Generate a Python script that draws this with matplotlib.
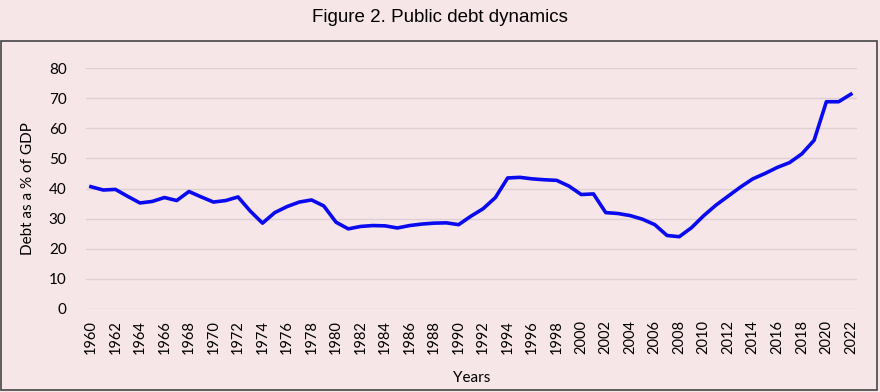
import numpy as np
import matplotlib
matplotlib.use('Agg')
import matplotlib.pyplot as plt
from matplotlib.patches import Rectangle

### Data ###
years = list(range(1960, 2023))
debt = [40.6, 39.5, 39.7, 37.4, 35.2, 35.7, 37.0, 36.0, 39.0, 37.2,
        35.5, 36.0, 37.2, 32.5, 28.5, 32.0, 34.0, 35.5, 36.2, 34.2,
        28.8, 26.6, 27.4, 27.7, 27.6, 26.9, 27.7, 28.2, 28.5, 28.6,
        28.0, 30.8, 33.3, 37.0, 43.5, 43.7, 43.2, 42.9, 42.7, 40.8,
        38.0, 38.2, 32.0, 31.7, 31.0, 29.8, 28.0, 24.4, 24.0, 27.0,
        31.0, 34.5, 37.5, 40.5, 43.2, 45.0, 47.0, 48.6, 51.5, 56.0,
        68.8, 68.8, 71.3]
xticks = list(range(1960, 2023, 2))
yticks = list(range(0, 81, 10))

BG = '#f7e6e8'
plt.rcParams['font.family'] = ['Lato', 'DejaVu Sans']

fig = plt.figure(figsize=(8.8, 3.92), dpi=100, facecolor=BG)
ax = fig.add_axes([86/880, 83/392, 771/880, 241/392])
ax.set_facecolor(BG)

ax.plot(years, debt, color='#0a0af0', lw=2.6, solid_joinstyle='round', clip_on=False, zorder=3)

ax.set_xlim(1959.6, 2022.5)
ax.set_ylim(0, 80)
ax.set_yticks(yticks)
ax.set_xticks(xticks)
ax.set_xticklabels([str(y) for y in xticks], rotation=90, fontsize=10.5)
ax.tick_params(axis='y', labelsize=11, length=0, pad=14)
ax.tick_params(axis='x', length=0, pad=8)
ax.grid(axis='y', color='#dcd0d2', lw=1)
ax.set_axisbelow(True)
for s in ax.spines.values():
    s.set_visible(False)

ax.set_ylabel('Debt as a % of GDP', fontsize=11, labelpad=10)
ax.set_xlabel('Years', fontsize=11, labelpad=12)

fig.text(0.5, 1 - 18/392, 'Figure 2. Public debt dynamics', ha='center', va='center',
         fontsize=13.5, family=['Liberation Sans', 'DejaVu Sans'])

# frame around the chart
fig.patches.append(Rectangle((1/880, 2/392), 876/880, 349/392, transform=fig.transFigure,
                             fill=False, edgecolor='#444444', lw=1.2))

fig.savefig('out.png', dpi=100, facecolor=BG)
